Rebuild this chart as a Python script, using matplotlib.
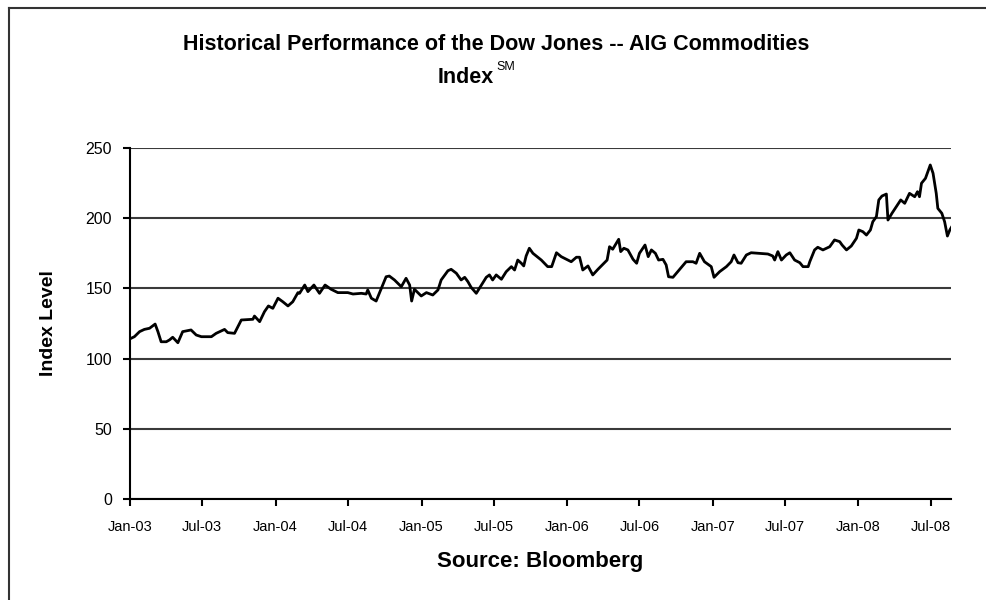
import matplotlib
matplotlib.use('Agg')
import matplotlib.pyplot as plt
import matplotlib.dates as mdates
from matplotlib.lines import Line2D
import pandas as pd

plt.rcParams['font.family'] = ['Liberation Sans', 'DejaVu Sans']

# index level (approximate dates)
dates = [
    '2003-01-04', '2003-01-12', '2003-01-25', '2003-02-06', '2003-02-19', '2003-03-05',
    '2003-03-12', '2003-03-20', '2003-04-02', '2003-04-10', '2003-04-18', '2003-05-01',
    '2003-05-13', '2003-06-03', '2003-06-16', '2003-06-29', '2003-07-24', '2003-08-05',
    '2003-08-26', '2003-09-03', '2003-09-20', '2003-10-07', '2003-11-05', '2003-11-09',
    '2003-11-22', '2003-12-04', '2003-12-14', '2003-12-25', '2004-01-07', '2004-01-19',
    '2004-02-01', '2004-02-13', '2004-02-26', '2004-03-01', '2004-03-14', '2004-03-22',
    '2004-04-06', '2004-04-20', '2004-05-04', '2004-05-19', '2004-06-05', '2004-06-30',
    '2004-07-13', '2004-08-03', '2004-08-15', '2004-08-19', '2004-08-28', '2004-09-09',
    '2004-09-22', '2004-10-04', '2004-10-12', '2004-10-25', '2004-11-11', '2004-11-23',
    '2004-12-02', '2004-12-07', '2004-12-14', '2004-12-31', '2005-01-13', '2005-01-29',
    '2005-02-11', '2005-02-19', '2005-03-08', '2005-03-16', '2005-03-29', '2005-04-10',
    '2005-04-19', '2005-04-27', '2005-05-05', '2005-05-18', '2005-05-31', '2005-06-12',
    '2005-06-20', '2005-06-28', '2005-07-07', '2005-07-20', '2005-08-01', '2005-08-14',
    '2005-08-22', '2005-08-30', '2005-09-08', '2005-09-14', '2005-09-20', '2005-09-28',
    '2005-10-07', '2005-10-28', '2005-11-13', '2005-11-23', '2005-12-05', '2005-12-17',
    '2006-01-11', '2006-01-24', '2006-02-01', '2006-02-09', '2006-02-22', '2006-03-06',
    '2006-03-19', '2006-04-11', '2006-04-17', '2006-04-25', '2006-05-04', '2006-05-10',
    '2006-05-15', '2006-05-23', '2006-06-02', '2006-06-15', '2006-06-24', '2006-07-01',
    '2006-07-15', '2006-07-23', '2006-07-31', '2006-08-10', '2006-08-18', '2006-08-29',
    '2006-09-06', '2006-09-12', '2006-09-23', '2006-10-05', '2006-10-26', '2006-11-12',
    '2006-11-20', '2006-11-29', '2006-12-11', '2006-12-28', '2007-01-04', '2007-01-18',
    '2007-02-04', '2007-02-16', '2007-02-23', '2007-03-05', '2007-03-13', '2007-03-26',
    '2007-04-07', '2007-05-19', '2007-05-31', '2007-06-05', '2007-06-13', '2007-06-22',
    '2007-07-04', '2007-07-13', '2007-07-25', '2007-08-07', '2007-08-15', '2007-08-28',
    '2007-09-01', '2007-09-13', '2007-09-21', '2007-10-04', '2007-10-21', '2007-11-02',
    '2007-11-15', '2007-11-21', '2007-12-02', '2007-12-14', '2007-12-27', '2008-01-02',
    '2008-01-12', '2008-01-21', '2008-01-31', '2008-02-06', '2008-02-15', '2008-02-21',
    '2008-02-29', '2008-03-11', '2008-03-15', '2008-03-25', '2008-04-05', '2008-04-16',
    '2008-04-26', '2008-05-08', '2008-05-21', '2008-05-28', '2008-06-02', '2008-06-07',
    '2008-06-17', '2008-06-29', '2008-07-06', '2008-07-14', '2008-07-18', '2008-07-28',
    '2008-08-04', '2008-08-11', '2008-08-17', '2008-08-21',
]
index_level = [
    114.5, 115.6, 119.2, 120.8, 121.6, 124.6,
    119.2, 112.0, 112.0, 113.3, 115.2, 111.3,
    119.2, 120.4, 116.8, 115.6, 115.6, 118.0,
    120.8, 118.5, 118.0, 127.5, 128.0, 130.3,
    126.3, 133.4, 137.5, 135.8, 143.0, 140.5,
    137.5, 140.5, 147.0, 146.5, 152.4, 147.7,
    152.4, 146.5, 152.4, 149.4, 147.0, 147.0,
    146.0, 146.5, 146.0, 148.9, 143.0, 141.0,
    150.1, 158.3, 158.8, 156.0, 151.2, 157.2,
    152.4, 141.0, 149.4, 144.6, 147.0, 145.3,
    148.9, 156.0, 162.6, 163.6, 160.8, 156.0,
    157.9, 154.8, 150.8, 146.5, 152.4, 157.9,
    159.6, 156.0, 159.6, 156.5, 161.9, 165.5,
    163.1, 170.2, 167.9, 166.0, 173.1, 178.6,
    175.0, 170.2, 165.5, 165.5, 175.4, 172.6,
    169.0, 172.2, 172.2, 163.1, 166.0, 159.6,
    163.6, 170.2, 179.7, 177.9, 182.1, 185.0,
    176.2, 178.6, 177.4, 170.7, 167.9, 175.0,
    180.9, 172.6, 177.4, 175.0, 170.2, 170.7,
    166.7, 158.3, 157.9, 161.9, 169.0, 169.0,
    167.9, 175.0, 169.0, 165.5, 157.9, 161.9,
    165.5, 169.0, 173.8, 168.3, 167.9, 173.8,
    175.4, 174.5, 173.1, 170.2, 176.2, 170.2,
    173.8, 175.4, 170.2, 168.3, 165.5, 165.5,
    169.0, 177.4, 179.3, 177.4, 179.7, 184.5,
    183.3, 180.9, 177.4, 180.2, 185.7, 191.6,
    190.4, 188.0, 191.6, 197.5, 201.1, 213.0,
    215.8, 217.2, 198.7, 203.5, 208.2, 213.0,
    210.6, 217.7, 215.3, 218.9, 215.3, 224.9,
    228.4, 237.9, 232.0, 217.7, 207.0, 203.5,
    197.5, 187.3, 191.6, 193.5,
]
y_ticks = [0, 50, 100, 150, 200, 250]

dates = pd.to_datetime(dates)

fig = plt.figure(figsize=(9.86, 6), dpi=100)
ax = fig.add_axes([130 / 986, 1 - 499 / 600, 821 / 986, 351 / 600])

ax.plot(dates, index_level, color='black', linewidth=2.0, zorder=3)

ax.set_ylim(0, 250)
ax.set_xlim(pd.Timestamp('2003-01-01'), pd.Timestamp('2008-08-20'))
ax.set_yticks(y_ticks)
ax.xaxis.set_major_locator(mdates.MonthLocator(bymonth=(1, 7)))
ax.xaxis.set_major_formatter(mdates.DateFormatter('%b-%y'))

# horizontal gridlines only
ax.yaxis.grid(True, color='#3a3a3a', linewidth=1.5)
ax.set_axisbelow(True)
for side in ['top', 'right']:
    ax.spines[side].set_visible(False)
for side in ['left', 'bottom']:
    ax.spines[side].set_linewidth(1.5)
    ax.spines[side].set_color('black')

ax.tick_params(axis='y', direction='out', length=5, width=1.5, labelsize=11.5, pad=8)
ax.tick_params(axis='x', direction='out', length=5, width=1.5, labelsize=10.5, pad=10)

ax.set_ylabel('Index Level', fontsize=14, fontweight='bold')
ax.yaxis.set_label_coords((57 - 130) / 821, 0.5)
ax.set_xlabel('Source: Bloomberg', fontsize=16, fontweight='bold')
ax.xaxis.set_label_coords(0.5, (499 - 561) / 351)
ax.xaxis.label.set_va('center')

fig.text(496 / 986, 1 - 50 / 600, 'Historical Performance of the Dow Jones -- AIG Commodities',
         ha='center', va='baseline', fontsize=15.5, fontweight='bold')
fig.text(494 / 986, 1 - 83 / 600, 'Index', ha='right', va='baseline', fontsize=15.5, fontweight='bold')
fig.text(496 / 986, 1 - 70 / 600, 'SM', ha='left', va='baseline', fontsize=9)

# chart frame (top and left edges visible in the crop)
fig.add_artist(Line2D([9 / 986, 1], [1 - 8 / 600, 1 - 8 / 600], color='#333333', linewidth=1.5))
fig.add_artist(Line2D([9 / 986, 9 / 986], [0, 1 - 8 / 600], color='#333333', linewidth=1.5))

plt.savefig('out.png', dpi=100)
